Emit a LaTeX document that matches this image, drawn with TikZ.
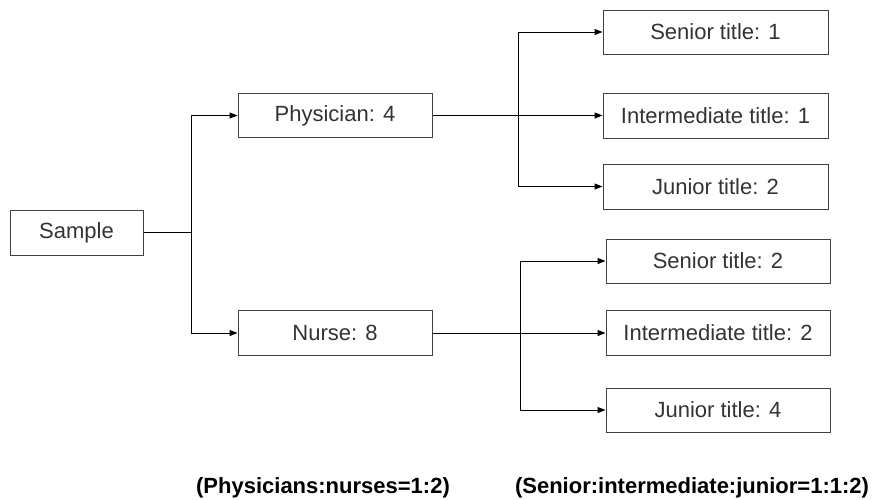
\documentclass[tikz,border=0pt]{standalone}
\usepackage{fontspec}
\setmainfont{Liberation Sans}
\usetikzlibrary{arrows.meta}
\definecolor{boxline}{HTML}{404040}
\definecolor{txt}{HTML}{333333}
\tikzset{
  box/.style={draw=boxline, line width=1pt, minimum height=44pt, inner sep=0pt,
    text=txt, font=\fontsize{22}{26}\selectfont},
  conn/.style={draw=black, line width=1pt},
  arr/.style={conn, -{Triangle[length=8pt,width=6pt]}},
  note/.style={font=\fontsize{22}{26}\selectfont\bfseries, text=black, inner sep=0pt, anchor=base}
}
\begin{document}
\begin{tikzpicture}[x=1pt,y=1pt]
\useasboundingbox (0,0) rectangle (880,-499);
\node[box, minimum width=133pt, minimum height=45pt] (sample) at (76.5,-232.5) {Sample};
\node[box, minimum width=194pt] (phys) at (335,-115.5) {Physician: 4};
\node[box, minimum width=194pt, minimum height=45pt] (nurse) at (335,-333) {Nurse: 8};
\node[box, minimum width=225pt] (s1) at (715.5,-32) {Senior title: 1};
\node[box, minimum width=225pt, minimum height=45pt] (i1) at (715.5,-115.5) {Intermediate title: 1};
\node[box, minimum width=225pt, minimum height=45pt] (j1) at (715.5,-186.5) {Junior title: 2};
\node[box, minimum width=224pt] (s2) at (718,-261) {Senior title: 2};
\node[box, minimum width=224pt, minimum height=45pt] (i2) at (718,-333) {Intermediate title: 2};
\node[box, minimum width=224pt] (j2) at (718,-410) {Junior title: 4};
\coordinate (b0) at (191,-232.5);
\coordinate (b1) at (518,-115.5);
\coordinate (b2) at (520,-333);
\draw[conn] (sample.east) -- (b0);
\draw[arr] (b0) |- (phys.west);
\draw[arr] (b0) |- (nurse.west);
\draw[arr] (phys.east) -- (i1.west);
\draw[arr] (b1) |- (s1.west);
\draw[arr] (b1) |- (j1.west);
\draw[arr] (nurse.east) -- (i2.west);
\draw[arr] (b2) |- (s2.west);
\draw[arr] (b2) |- (j2.west);
\node[note] (n1) at (323,-493) {(Physicians:nurses=1:2)};
\node[note] (n2) at (692,-493) {(Senior:intermediate:junior=1:1:2)};
\end{tikzpicture}
\end{document}
